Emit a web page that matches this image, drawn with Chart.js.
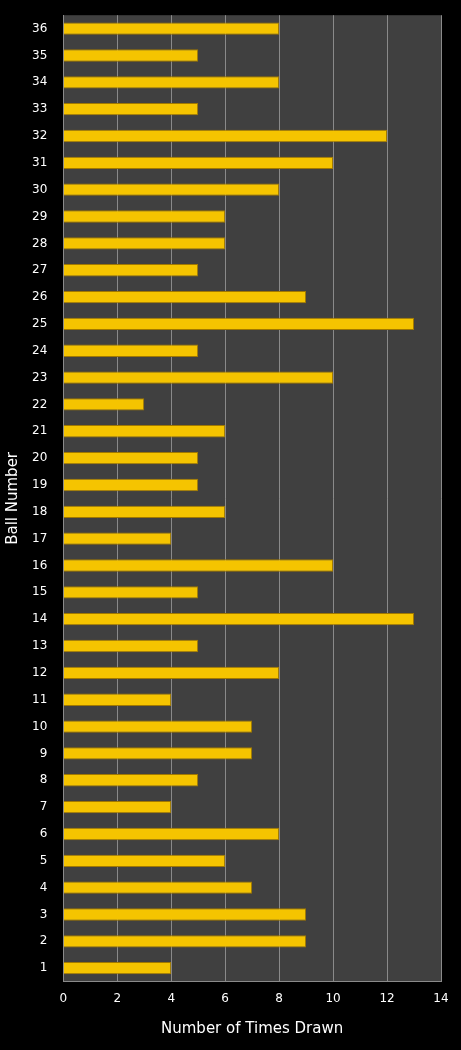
<!DOCTYPE html>
<html><head><meta charset="utf-8">
<script src="https://cdn.jsdelivr.net/npm/chart.js@4"></script>
<style>html,body{margin:0;padding:0;background:#000;}#w{width:461px;height:1050px;}</style>
</head><body><div id="w"><canvas id="c"></canvas></div>
<script>
const categories = ["36","35","34","33","32","31","30","29","28","27","26","25","24","23","22","21","20","19","18","17","16","15","14","13","12","11","10","9","8","7","6","5","4","3","2","1"];
const timesDrawn = [8,5,8,5,12,10,8,6,6,5,9,13,5,10,3,6,5,5,6,4,10,5,13,5,8,4,7,7,5,4,8,6,7,9,9,4];
const xTicks = [0,2,4,6,8,10,12,14];

const bgPlugin = {id:'bg', beforeDraw(ch){const a=ch.chartArea,c=ch.ctx;c.save();c.fillStyle='#404040';c.fillRect(a.left,a.top,a.right-a.left,a.bottom-a.top);c.restore();}};
function grad(ctx){
  const el = ctx.element; const chart = ctx.chart;
  if(!el || el.y===undefined || !isFinite(el.y)) return '#f5c400';
  const h = el.height || 12;
  const g = chart.ctx.createLinearGradient(0, el.y - h/2, 0, el.y + h/2);
  g.addColorStop(0,'#fff27a'); g.addColorStop(0.35,'#ffd700'); g.addColorStop(1,'#c99400');
  return g;
}
new Chart(document.getElementById('c'), {
  type:'bar',
  data:{labels:categories, datasets:[{data:timesDrawn, backgroundColor:grad, borderColor:'#a07800', borderWidth:1, categoryPercentage:1, barPercentage:0.46}]},
  options:{indexAxis:'y', responsive:true, maintainAspectRatio:false, animation:false,
    layout:{padding:{top:15,right:20,left:0,bottom:8}},
    plugins:{legend:{display:false}, tooltip:{enabled:false}},
    scales:{
      x:{min:0,max:14, afterBuildTicks(ax){ax.ticks=xTicks.map(v=>({value:v}));},
        grid:{color:'#8a8a8a', drawTicks:false}, border:{color:'#8a8a8a'},
        ticks:{color:'#fff', font:{family:'DejaVu Sans', size:12}, padding:10},
        title:{display:true,text:'Number of Times Drawn',color:'#fff',font:{family:'DejaVu Sans',size:15},padding:{top:4}}},
      y:{grid:{display:false}, border:{color:'#8a8a8a'},
        ticks:{color:'#fff', font:{family:'DejaVu Sans', size:12}, padding:8, autoSkip:false},
        title:{display:true,text:'Ball Number',color:'#fff',font:{family:'DejaVu Sans',size:15},padding:{bottom:2}}}
    }},
  plugins:[bgPlugin]
});
</script></body></html>
